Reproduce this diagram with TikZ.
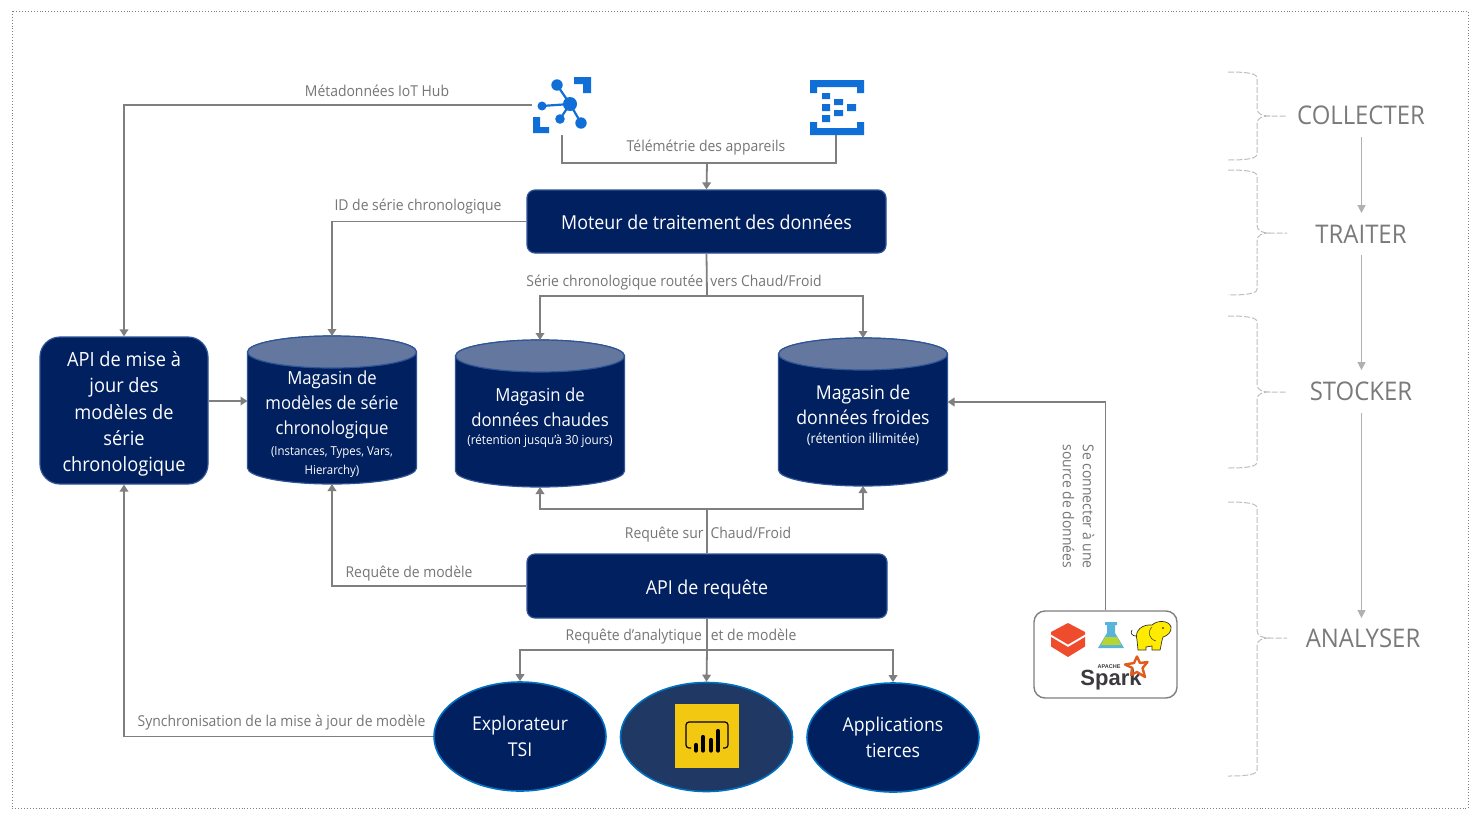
\documentclass[tikz,border=0pt]{standalone}
\usepackage{fontspec}
\setmainfont[FakeStretch=0.93]{Open Sans}
\newfontfamily\logofont{Liberation Sans}
\usetikzlibrary{arrows.meta,shapes.geometric}
\definecolor{navy}{HTML}{002060}
\definecolor{navyb}{HTML}{2F5597}
\definecolor{capc}{HTML}{64789F}
\definecolor{pbifill}{HTML}{1F3864}
\definecolor{ringc}{HTML}{0070C0}
\definecolor{linec}{HTML}{7F7F7F}
\definecolor{labc}{HTML}{767676}
\definecolor{azure}{HTML}{0F6FD6}
\definecolor{bracec}{HTML}{BFBFBF}
\definecolor{stagec}{HTML}{7A7A7A}
\definecolor{stagearrow}{HTML}{B0B0B0}
\definecolor{pbiy}{HTML}{F2C811}
\definecolor{redb}{HTML}{EE4C2C}
\definecolor{flaskc}{HTML}{59B4D9}
\definecolor{liquidc}{HTML}{B8D432}
\definecolor{elec}{HTML}{FFEB00}
\definecolor{sparkc}{HTML}{E25A1C}
\definecolor{sparkt}{HTML}{3C3A3E}
\tikzset{
  x=1pt,y=-1pt,
  conn/.style={draw=linec,line width=1.8pt,-{Triangle[length=7pt,width=8.5pt]}},
  plainconn/.style={draw=linec,line width=1.8pt},
  lab/.style={text=labc,font=\fontsize{15}{18}\selectfont,inner sep=0pt},
  procbox/.style={rectangle,rounded corners=8pt,draw=navyb,fill=navy,line width=1.2pt,text=white,font=\fontsize{19.2}{26}\selectfont,align=center,inner sep=0pt},
  store/.style={rectangle,minimum width=169pt,inner sep=0pt,outer sep=0pt},
  storetxt/.style={text=white,font=\fontsize{18}{25}\selectfont,align=center,inner sep=0pt},
  oval/.style={ellipse,draw=ringc,fill=navy,line width=1.6pt,minimum width=172pt,minimum height=109pt,inner sep=0pt,text=white,font=\fontsize{19}{26}\selectfont,align=center},
  stage/.style={text=stagec,font=\fontsize{25.7}{30}\selectfont,inner sep=0pt},
  stagearr/.style={draw=stagearrow,line width=1.2pt,-{Triangle[length=8pt,width=8pt]}},
  bracep/.style={draw=bracec,line width=1pt,dash pattern=on 6pt off 2pt},
  icon/.style={inner sep=0pt,outer sep=0pt,minimum width=#1,minimum height=#1},
}
\newcommand{\stagebrace}[3]{%
  \draw[bracep] (1228,#1) .. controls (1245,#1) and (1257,{#1+1}) .. (1257,{#1+6})
    -- (1257,{#2-8}) .. controls (1257,{#2-2}) and (1262,#2) .. (1270,#2) -- (1287,#2)
    (1270,#2) .. controls (1262,#2) and (1257,{#2+2}) .. (1257,{#2+8})
    -- (1257,{#3-6}) .. controls (1257,{#3-1}) and (1245,#3) .. (1228,#3);}
\newcommand{\storebody}[1]{%
  \draw[draw=navyb,fill=navy,line width=1.2pt] ([yshift=-16pt]#1.north west) -- ([yshift=16pt]#1.south west)
    arc[start angle=180,end angle=360,x radius=84.5pt,y radius=16pt]
    -- ([yshift=-16pt]#1.north east)
    arc[start angle=0,end angle=180,x radius=84.5pt,y radius=16pt] -- cycle;
  \draw[draw=navyb,fill=capc,line width=1.2pt] ([yshift=-16pt]#1.north) ellipse[x radius=84.5pt,y radius=16pt];}
\begin{document}
\begin{tikzpicture}
\useasboundingbox (0,0) rectangle (1480,819);
\fill[white] (0,0) rectangle (1480,819);
\draw[draw=linec,line width=0.9pt,dotted] (12,11) rectangle (1468,808);

% icons
\node[icon=60pt] (hub) at (562,105) {};
\node[icon=56pt] (ehub) at (836,107) {};
\fill[azure] (574,77) -- (591,77) -- (591,93) -- (583,93) -- (583,84) -- (574,84) -- cycle;
\fill[azure] (533,117) -- (540,117) -- (540,127) -- (549,127) -- (549,133) -- (533,133) -- cycle;
\draw[azure,line width=2.2pt] (570,104) -- (557,85) (570,104) -- (542,106) (570,104) -- (560,119) (570,104) -- (581,123);
\fill[azure] (570,104) circle[radius=7] (557,85) circle[radius=5.7] (542,106) circle[radius=4.5] (560,119) circle[radius=4.8] (581,123) circle[radius=5.7];
\fill[azure] (810,80) -- (864,80) -- (864,93) -- (857,93) -- (857,87) -- (817,87) -- (817,93) -- (810,93) -- cycle;
\fill[azure] (810,122) -- (817,122) -- (817,128) -- (857,128) -- (857,122) -- (864,122) -- (864,135) -- (810,135) -- cycle;
\fill[azure] (822,93) rectangle (830,99) (822,104) rectangle (830,111) (834,99) rectangle (843,105) (834,110) rectangle (843,116) (822,115) rectangle (830,122) (847,104) rectangle (856,111);

% process boxes
\node[procbox,minimum width=359pt,minimum height=63pt] (mot) at (706.5,221.5) {\raisebox{-8pt}[0pt][0pt]{Moteur de traitement des données}};
\node[procbox,minimum width=360pt,minimum height=64pt] (qapi) at (707,586) {\raisebox{-8pt}[0pt][0pt]{API de requête}};
\node[procbox,rounded corners=20pt,minimum width=168pt,minimum height=147pt] (upd) at (124,410.5) {};
\node[text=white,font=\fontsize{19.6}{26.3}\selectfont,align=center,inner sep=0pt] (updt) at (124,414) {API de mise à\\jour des\\modèles de\\série\\chronologique};

% stores
\node[store,minimum height=148pt] (mm) at (332,410) {};
\node[store,minimum height=147pt] (hot) at (540,413.5) {};
\node[store,minimum height=148pt] (cold) at (863,412) {};
\storebody{mm}
\storebody{hot}
\storebody{cold}
\node[storetxt] (mmt) at (332,405) {Magasin de\\modèles de série\\chronologique};
\node[storetxt,font=\fontsize{12.3}{19}\selectfont] (mms) at (332,462.5) {(Instances, Types, Vars,\\Hierarchy)};
\node[storetxt] (hott) at (540,407) {Magasin de\\données chaudes};
\node[storetxt,font=\fontsize{12.6}{16}\selectfont] (hots) at (540,441.5) {(rétention jusqu’à 30 jours)};
\node[storetxt,font=\fontsize{19}{25}\selectfont] (coldt) at (863,404.5) {Magasin de\\données froides};
\node[storetxt,font=\fontsize{13.7}{16}\selectfont] (colds) at (863,439) {(rétention illimitée)};

% ovals
\node[oval] (tsi) at (520,736.5) {Explorateur\\TSI};
\node[oval,fill=pbifill] (pbi) at (706.5,737) {};
\node[oval] (apps) at (893,737.5) {Applications\\tierces};
\node[fill=pbiy,minimum width=64pt,minimum height=64pt,inner sep=0pt] (pbilogo) at (707,736) {};
\draw[black,line width=1.2pt,rounded corners=3pt] (691,748) -- (686,748) -- (686,722) -- (728,722) -- (728,748) -- (723,748);
\draw[black,line width=4.2pt,line cap=round] (696,750.5) -- (696,745) (703,750.5) -- (703,737) (711,750.5) -- (711,740) (718,750.5) -- (718,731);

% logos box
\node[draw=linec,line width=1.4pt,rounded corners=11pt,minimum width=143pt,minimum height=87pt,inner sep=0pt,fill=white] (tools) at (1105.5,654.5) {};
\fill[redb] (1068,623) -- (1085,632) -- (1085,634.5) -- (1068,644.5) -- (1051,634.5) -- (1051,632) -- cycle;
\fill[redb] (1051,637) -- (1068,647) -- (1085,637) -- (1085,646.5) -- (1068,657) -- (1051,646.5) -- cycle;
% flask
\fill[flaskc] (1105,622) -- (1117,622) -- (1117,625) -- (1115,625) -- (1115,633) -- (1124,648) -- (1098,648) -- (1107,633) -- (1107,625) -- (1105,625) -- cycle;
\fill[liquidc] (1105,637) -- (1117,637) -- (1121,645) -- (1101,645) -- cycle;
% elephant
\fill[elec,draw=black!80,line width=0.7pt] (1137,640) .. controls (1134,630) and (1143,624) .. (1152,625) .. controls (1157,620) and (1169,620) .. (1171,627) .. controls (1172,632) and (1167,636) .. (1163,637) .. controls (1161,643) and (1161,647) .. (1160,650) -- (1152,650) -- (1152,646) -- (1146,647) -- (1146,650) -- (1138,650) -- cycle;
\draw[black!80,line width=0.5pt] (1152,627) .. controls (1147,632) and (1149,639) .. (1156,641);
\draw[black!80,line width=0.7pt] (1136,636) .. controls (1132,636) and (1130,633) .. (1132,630);
\fill[black] (1163,628) circle[radius=0.8];
% spark
\node[text=sparkt,inner sep=0pt,font=\logofont\bfseries\fontsize{22}{22}\selectfont] (spark) at (1111,679.5) {Spark};
\node[text=sparkt,inner sep=0pt,font=\logofont\bfseries\fontsize{5.5}{5.5}\selectfont] (apache) at (1109,667) {APACHE};
\draw[sparkc,line width=2.4pt,line join=round] (1137,656.5) -- (1140,663) -- (1147.5,662) -- (1142.5,668) -- (1145,677) -- (1137,672) -- (1131,675) -- (1132.5,668) -- (1125,664.5) -- (1134,663) -- cycle;

% connectors
\coordinate (jtel) at (707,163);
\coordinate (jroute) at (707,296);
\coordinate (jreq) at (707,509);
\coordinate (jana) at (707,650);
\draw[conn] (hub.west) -| (upd.north);
\draw[plainconn] (hub.south) |- (jtel);
\draw[plainconn] (ehub.south) |- (jtel);
\draw[conn] (jtel) -- (mot.north);
\draw[conn] (mot.west) -| (mm.north);
\draw[plainconn] (mot.south) -- (jroute);
\draw[conn] (jroute) -| (hot.north);
\draw[conn] (jroute) -| (cold.north);
\draw[conn] (upd.east |- 0,401) -- (mm.west |- 0,401);
\draw[plainconn] (qapi.north) -- (jreq);
\draw[conn] (jreq) -| (hot.south);
\draw[conn] (jreq) -| (cold.south);
\draw[conn] (qapi.west) -| (mm.south);
\draw[plainconn] (qapi.south) -- (jana);
\draw[conn] (jana) -- (pbi.north);
\draw[conn] (jana) -| (tsi.north);
\draw[conn] (jana) -| (apps.north);
\draw[conn] (tsi.west) -| (upd.south);
\draw[conn] (tools.north) |- (cold.east |- 0,402);

% labels
\node[lab] (l1) at (377,91) {Métadonnées IoT Hub};
\node[lab] (l2) at (706,148) {Télémétrie des appareils};
\node[lab] (l3) at (418,207) {ID de série chronologique};
\node[lab] (l4) at (674,283) {Série chronologique routée\hspace{7pt}vers Chaud/Froid};
\node[lab] (l5) at (708,535) {Requête sur\hspace{7pt}Chaud/Froid};
\node[lab] (l6) at (409,573.5) {Requête de modèle};
\node[lab] (l7) at (681,637) {Requête d’analytique\hspace{9pt}et de modèle};
\node[lab] (l8) at (281.5,723) {Synchronisation de la mise à jour de modèle};
\node[lab,rotate=-90,align=center,font=\fontsize{15}{20}\selectfont] (l9) at (1078.5,506.5) {Se connecter à une\\source de données};

% stages
\node[stage] (s1) at (1361,115.5) {COLLECTER};
\node[stage] (s2) at (1361,234.5) {TRAITER};
\node[stage] (s3) at (1361,391.5) {STOCKER};
\node[stage] (s4) at (1363,638.5) {ANALYSER};
\draw[stagearr] (1361.5,137) -- (1361.5,213);
\draw[stagearr] (1361.5,255) -- (1361.5,370);
\draw[stagearr] (1361.5,413) -- (1361.5,618);
\stagebrace{72}{116}{160}
\stagebrace{170}{233}{295}
\stagebrace{316}{392}{468}
\stagebrace{502}{638}{776}
\end{tikzpicture}
\end{document}
